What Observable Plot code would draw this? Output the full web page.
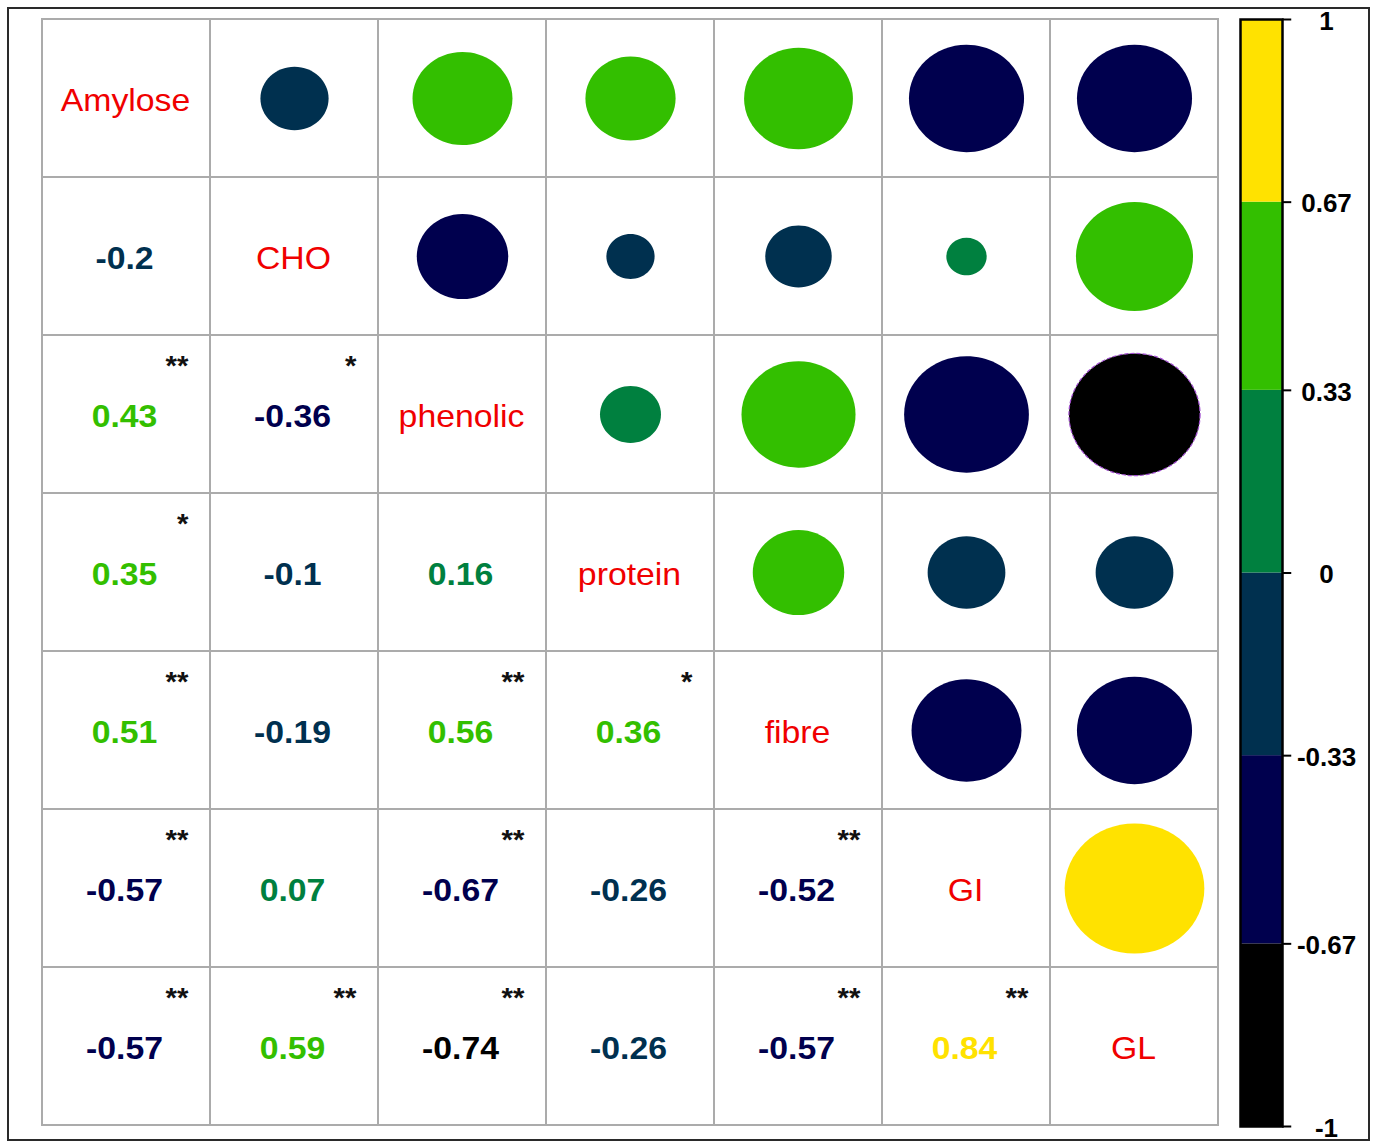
<!DOCTYPE html>
<html>
<head>
<meta charset="utf-8">
<script src="https://cdn.jsdelivr.net/npm/d3@7"></script>
<script src="https://cdn.jsdelivr.net/npm/@observablehq/plot@0.6"></script>
<style>
  html, body { margin: 0; padding: 0; background: #ffffff; }
  #chart { position: relative; width: 1375px; height: 1142px; overflow: hidden; }
  #chart .border { position: absolute; left: 7px; top: 7px; width: 1363px; height: 1134px;
                   box-sizing: border-box; border: 2px solid #2a2a2a; }
  #chart svg { position: absolute; top: 0; }
</style>
</head>
<body>
<div id="chart"><div class="border"></div></div>
<script>
// Variables of the correlation matrix (row/column order)
const variables = ["Amylose", "CHO", "phenolic", "protein", "fibre", "GI", "GL"];

// Pearson correlation coefficients, one row per variable
const corrAmylose  = [1, -0.2, 0.43, 0.35, 0.51, -0.57, -0.57];
const corrCHO      = [-0.2, 1, -0.36, -0.1, -0.19, 0.07, 0.59];
const corrPhenolic = [0.43, -0.36, 1, 0.16, 0.56, -0.67, -0.74];
const corrProtein  = [0.35, -0.1, 0.16, 1, 0.36, -0.26, -0.26];
const corrFibre    = [0.51, -0.19, 0.56, 0.36, 1, -0.52, -0.57];
const corrGI       = [-0.57, 0.07, -0.67, -0.26, -0.52, 1, 0.84];
const corrGL       = [-0.57, 0.59, -0.74, -0.26, -0.57, 0.84, 1];
const correlations = [corrAmylose, corrCHO, corrPhenolic, corrProtein, corrFibre, corrGI, corrGL];

// Significance marks for the lower triangle (row, column, stars)
const sigRow   = [2, 2, 3, 4, 4, 4, 5, 5, 5, 6, 6, 6, 6, 6];
const sigCol   = [0, 1, 0, 0, 2, 3, 0, 2, 4, 0, 1, 2, 4, 5];
const sigStars = ["**", "*", "*", "**", "**", "*", "**", "**", "**", "**", "**", "**", "**", "**"];

// Colour bins of the legend
const binBreaks  = [-0.67, -0.33, 0, 0.33, 0.67];
const binColors  = ["#000000", "#00004e", "#00304f", "#00803f", "#33bf00", "#ffe200"];
const binLow     = [-1, -0.67, -0.33, 0, 0.33, 0.67];
const binHigh    = [-0.67, -0.33, 0, 0.33, 0.67, 1];
const tickValues = [1, 0.67, 0.33, 0, -0.33, -0.67, -1];
const tickLabels = ["1", "0.67", "0.33", "0", "-0.33", "-0.67", "-1"];

const font = "'Liberation Sans', Arial, sans-serif";

// Build cell tables from the arrays
const cells = [], upper = [], lower = [], diag = [];
variables.forEach((rowName, i) => {
  variables.forEach((colName, j) => {
    const d = {row: rowName, col: colName, value: correlations[i][j]};
    cells.push(d);
    if (i === j) diag.push(d);
    else if (j > i) upper.push(d);
    else lower.push(d);
  });
});
const stars = sigRow.map((r, k) => ({row: variables[r], col: variables[sigCol[k]], stars: sigStars[k]}));

// Slightly wider-than-tall ellipse following the cell aspect
const ellipse = {
  draw(context, size) {
    const r = Math.sqrt(size / Math.PI), rx = r * 1.03, ry = r * 0.96, k = 0.5522847;
    context.moveTo(rx, 0);
    context.bezierCurveTo(rx, k * ry, k * rx, ry, 0, ry);
    context.bezierCurveTo(-k * rx, ry, -rx, k * ry, -rx, 0);
    context.bezierCurveTo(-rx, -k * ry, -k * rx, -ry, 0, -ry);
    context.bezierCurveTo(k * rx, -ry, rx, -k * ry, rx, 0);
    context.closePath();
  }
};

const colorScale = {type: "threshold", domain: binBreaks, range: binColors};

const matrix = Plot.plot({
  width: 1375,
  height: 1142,
  marginLeft: 40,
  marginRight: 155,
  marginTop: 18,
  marginBottom: 16,
  x: {domain: variables, padding: 0, axis: null},
  y: {domain: variables, padding: 0, axis: null},
  r: {type: "sqrt", domain: [0, 1], range: [0, 74]},
  color: colorScale,
  style: {fontFamily: font, background: "transparent"},
  marks: [
    Plot.cell(cells, {x: "col", y: "row", fill: "none", stroke: "#ababab", strokeWidth: 2}),
    Plot.dot(upper, {x: "col", y: "row", r: d => Math.abs(d.value), fill: "value", symbol: ellipse}),
    Plot.dot(upper.filter(d => d.value < -0.67), {
      x: "col", y: "row", r: d => Math.abs(d.value), fill: "none",
      stroke: "#a24ed0", strokeWidth: 1.2, strokeDasharray: "4,2", symbol: ellipse
    }),
    Plot.text(lower, {
      x: "col", y: "row", text: d => String(d.value), fill: "value",
      fontSize: 31, fontWeight: "bold", dx: -2, dy: 3
    }),
    Plot.text(stars, {
      x: "col", y: "row", text: "stars", fill: "#111", fontSize: 27, fontWeight: "bold",
      textAnchor: "end", dx: 62, dy: -48
    }),
    Plot.text(diag, {x: "col", y: "row", text: "col", fill: "#f00000", fontSize: 31, dx: -1, dy: 3})
  ]
});
matrix.style.left = "0px";

// Widen the glyphs a little, about each label's own anchor
d3.select(matrix).selectAll("text").attr("transform", function() {
  const t = this.getAttribute("transform") || "";
  return t + " scale(1.09,1)";
});

const bins = binLow.map((lo, i) => ({lo, hi: binHigh[i], mid: (lo + binHigh[i]) / 2}));

const colorbar = Plot.plot({
  width: 155,
  height: 1142,
  marginLeft: 20,
  marginRight: 93,
  marginTop: 19,
  marginBottom: 16,
  x: {domain: [0, 1], axis: null},
  y: {domain: [-1, 1], axis: null},
  color: colorScale,
  style: {fontFamily: font, background: "transparent", overflow: "visible"},
  marks: [
    Plot.rect(bins, {x1: 0, x2: 1, y1: "lo", y2: "hi", fill: "mid"}),
    Plot.frame({stroke: "#000", strokeWidth: 2.5}),
    Plot.ruleY(tickValues, {x1: 1, x2: 1.22, stroke: "#000", strokeWidth: 2}),
    Plot.text(tickValues, {
      y: d => d, frameAnchor: "right", dx: 44, dy: 2, textAnchor: "middle",
      text: (d, i) => tickLabels[i], fontSize: 26, fontWeight: "bold", fill: "#000"
    })
  ]
});
colorbar.style.left = "1220px";

const chart = document.getElementById("chart");
chart.appendChild(matrix);
chart.appendChild(colorbar);
</script>
</body>
</html>
